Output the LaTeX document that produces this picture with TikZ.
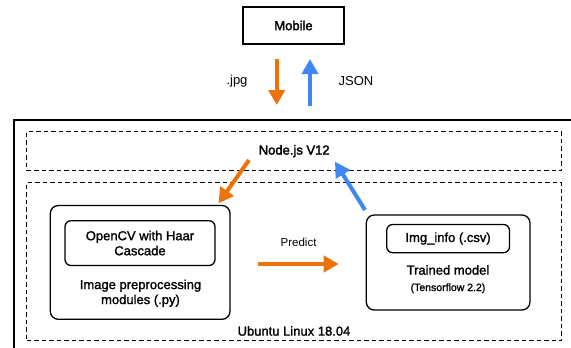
\documentclass[tikz,border=0pt]{standalone}
\usepackage{fontspec}
\setmainfont{Liberation Sans}
\newfontfamily\medfont[FakeBold=1.4]{Liberation Sans}
\newfontfamily\semifont[FakeBold=2.2]{Liberation Sans}
\usetikzlibrary{arrows.meta}
\definecolor{aorange}{RGB}{238,114,10}
\definecolor{ablue}{RGB}{66,133,244}
\tikzset{
  sqbox/.style={draw, line width=1.3pt},
  dbox/.style={draw, line width=1.3pt, dash pattern=on 4.5pt off 3pt},
  rbox/.style={draw, line width=1.3pt, rounded corners=8pt},
  sbox/.style={draw, line width=1.3pt, rounded corners=6pt},
  mlabel/.style={font=\medfont\fontsize{13}{15}\selectfont, align=center, inner sep=0pt},
  blabel/.style={font=\semifont\fontsize{13}{15}\selectfont, align=center, inner sep=0pt},
  rlabel/.style={font=\fontsize{13}{15}\selectfont, inner sep=0pt},
  oarrow/.style={draw=aorange, line width=4pt, -{Triangle[width=16pt,length=15pt]}, color=aorange},
  barrow/.style={draw=ablue, line width=4pt, -{Triangle[width=16pt,length=15pt]}, color=ablue},
}
\begin{document}
\begin{tikzpicture}[x=1pt,y=-1pt]
\useasboundingbox (0,0) rectangle (571,348);
\clip (0,0) rectangle (571,348);
% outer frame
\draw[line width=1.5pt] (14,380) -- (14,120) -- (600,120);
% mobile
\node[sqbox, blabel, minimum width=101pt, minimum height=37pt] (mobile) at (293.5,25.5) {Mobile};
\node[rlabel] (jpg) at (237,81) {.jpg};
\node[rlabel] (json) at (356,81) {JSON};
% dashed areas
\node[dbox, blabel, minimum width=535pt, minimum height=39pt] (nodejs) at (294.2,151.2) {Node.js V12};
\node[dbox, minimum width=535pt, minimum height=158pt] (ubuntu) at (294.2,261.7) {};
\node[mlabel] (ubuntulbl) at (294,331) {Ubuntu Linux 18.04};
% image preprocessing
\node[rbox, minimum width=179.7pt, minimum height=113.8pt] (imgbox) at (140.15,262.4) {};
\node[sbox, mlabel, minimum width=150pt, minimum height=44.8pt] (opencv) at (140,243.1) {OpenCV with Haar\\Cascade};
\node[mlabel] (imglbl) at (140.5,293.2) {Image preprocessing\\modules (.py)};
% trained model
\node[rbox, minimum width=163.7pt, minimum height=95pt] (trained) at (448.15,262.5) {};
\node[sbox, mlabel, minimum width=122.8pt, minimum height=28.2pt] (imginfo) at (448.1,238.6) {Img\_info (.csv)};
\node[mlabel] (trainedlbl) at (448,270) {Trained model};
\node[font=\medfont\fontsize{10.5}{12}\selectfont, inner sep=0pt] (tflbl) at (448,288.3) {(Tensorflow 2.2)};
\node[font=\fontsize{11.5}{13}\selectfont, inner sep=0pt] (predict) at (298.6,242.7) {Predict};
% arrow end points
\coordinate (jpgS) at (276.7,59);
\coordinate (jpgE) at (276.7,105);
\coordinate (jsonS) at (310,106);
\coordinate (jsonE) at (310,59);
\coordinate (toImgS) at (249,160);
\coordinate (toImgE) at (218.5,203.3);
\coordinate (toNodeS) at (365,210);
\coordinate (toNodeE) at (335,161.7);
\coordinate (predS) at (257.8,264);
\coordinate (predE) at (338.7,264);
\draw[oarrow] (jpgS) -- (jpgE);
\draw[barrow] (jsonS) -- (jsonE);
\draw[oarrow] (toImgS) -- (toImgE);
\draw[barrow] (toNodeS) -- (toNodeE);
\draw[oarrow] (predS) -- (predE);
\end{tikzpicture}
\end{document}
